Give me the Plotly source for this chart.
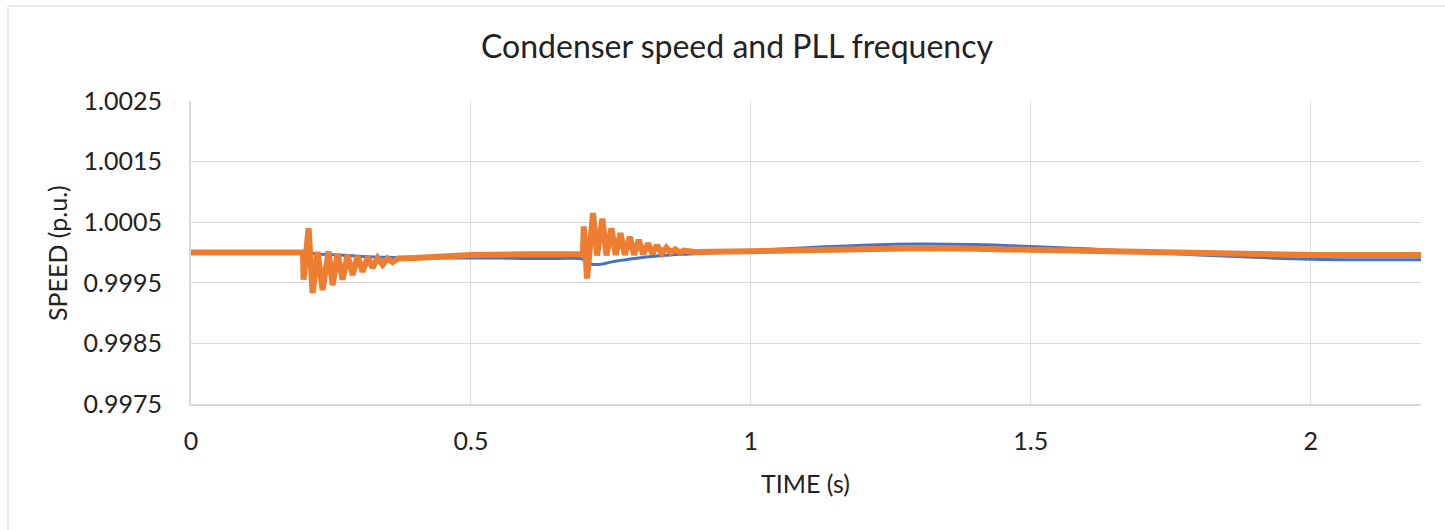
import plotly.graph_objects as go

# Condenser speed (p.u.) versus time (s)
speed_time = [0.0, 0.2, 0.22, 0.26, 0.3, 0.35, 0.4, 0.45, 0.5, 0.55, 0.6, 0.65, 0.7,
              0.705, 0.725, 0.76, 0.8, 0.84, 0.9, 1.0, 1.1, 1.2, 1.3, 1.4, 1.5,
              1.6, 1.7, 1.8, 1.9, 2.0, 2.1, 2.2]
speed_value = [1.0, 1.0, 0.99998, 0.99996, 0.99994, 0.99992, 0.99991, 0.99991, 0.99991,
               0.99991, 0.9999, 0.9999, 0.99989, 0.99984, 0.9998, 0.99986, 0.99991,
               0.99995, 0.99998, 1.00003, 1.00008, 1.00012, 1.00014, 1.00013, 1.0001,
               1.00006, 1.00001, 0.99996, 0.99992, 0.99989, 0.99988, 0.99988]

# PLL frequency (p.u.) versus time (s)
pll_time = [0.0, 0.2, 0.2011, 0.21, 0.2172, 0.2261, 0.235, 0.2458, 0.2529, 0.2618,
            0.2708, 0.2797, 0.2887, 0.2976, 0.3065, 0.3155, 0.3244, 0.3333, 0.3422,
            0.3511, 0.36, 0.37, 0.4, 0.45, 0.5, 0.6, 0.7,
            0.7015, 0.7074, 0.7181, 0.7253, 0.7349, 0.7421, 0.751, 0.7587, 0.7671,
            0.7748, 0.7837, 0.7914, 0.7998, 0.8075, 0.8164, 0.8243, 0.8325, 0.841,
            0.849, 0.857, 0.865, 0.873, 0.88, 0.9, 1.0, 1.1, 1.2, 1.3, 1.4, 1.5,
            1.6, 1.7, 1.8, 1.9, 2.0, 2.1, 2.2]
pll_value = [1.0, 1.0, 0.99955, 1.0004, 0.99933, 1.00001, 0.99938, 1.00002, 0.99946,
             0.99998, 0.99955, 0.99996, 0.99963, 0.99994, 0.99968, 0.99992, 0.99975,
             0.99991, 0.9998, 0.9999, 0.99984, 0.9999, 0.99991, 0.99994, 0.99996,
             0.99997, 0.99997,
             1.00043, 0.99957, 1.00065, 0.99995, 1.00056, 0.99995, 1.0004, 0.99996,
             1.00032, 0.99996, 1.00026, 0.99996, 1.00021, 0.99997, 1.00015, 0.99998,
             1.00012, 0.99999, 1.00008, 1.0, 1.00005, 1.0, 1.00003, 1.00001, 1.00002,
             1.00004, 1.00006, 1.00007, 1.00006, 1.00004, 1.00002, 1.0, 0.99999,
             0.99997, 0.99996, 0.99996, 0.99996]

y_ticks = [0.9975, 0.9985, 0.9995, 1.0005, 1.0015, 1.0025]
y_tick_text = ["0.9975", "0.9985", "0.9995", "1.0005", "1.0015", "1.0025"]
x_ticks = [0, 0.5, 1, 1.5, 2]
x_tick_text = ["0", "0.5", "1", "1.5", "2"]

FONT = "Lato, 'Open Sans', sans-serif"
TEXT = "#222222"
GRID = "#d9d9d9"

fig = go.Figure()
fig.add_trace(go.Scatter(x=speed_time, y=speed_value, mode="lines",
                         line=dict(color="#4472c4", width=3, shape="spline"),
                         name="Condenser speed"))
fig.add_trace(go.Scatter(x=pll_time, y=pll_value, mode="lines",
                         line=dict(color="#ed7d31", width=6),
                         name="PLL frequency"))

fig.update_layout(
    width=1445, height=530,
    margin=dict(l=191, r=24, t=101, b=126),
    paper_bgcolor="white", plot_bgcolor="white",
    showlegend=False,
    font=dict(family=FONT, color=TEXT),
    title=dict(text="Condenser speed and PLL frequency",
               font=dict(family=FONT, size=32, color=TEXT),
               x=737 / 1445, xanchor="center", y=1 - 47 / 530,
               yanchor="middle", yref="container", xref="container"),
    xaxis=dict(range=[0, 2.197], tickvals=x_ticks, ticktext=x_tick_text,
               showgrid=True, gridcolor=GRID, gridwidth=1,
               showline=True, linecolor=GRID, linewidth=2,
               zeroline=False, ticks="outside", ticklen=14,
               tickcolor="rgba(0,0,0,0)",
               tickfont=dict(family=FONT, size=25, color=TEXT)),
    yaxis=dict(range=[0.9975, 1.0025], tickvals=y_ticks, ticktext=y_tick_text,
               showgrid=True, gridcolor=GRID, gridwidth=1,
               showline=True, linecolor=GRID, linewidth=2,
               zeroline=False, ticks="outside", ticklen=22,
               tickcolor="rgba(0,0,0,0)",
               tickfont=dict(family=FONT, size=25, color=TEXT)),
    annotations=[
        dict(text="TIME (s)", xref="paper", yref="paper",
             x=(805 - 191) / 1230, y=(404 - 483) / 303,
             xanchor="center", yanchor="middle", showarrow=False,
             font=dict(family=FONT, size=25, color=TEXT)),
        dict(text="SPEED (p.u.)", xref="paper", yref="paper",
             x=(57 - 191) / 1230, y=(404 - 253) / 303, textangle=-90,
             xanchor="center", yanchor="middle", showarrow=False,
             font=dict(family=FONT, size=25, color=TEXT)),
    ],
    shapes=[
        dict(type="rect", xref="paper", yref="paper",
             x0=(8 - 191) / 1230, x1=1.05, y0=-0.5, y1=(404 - 6) / 303,
             line=dict(color=GRID, width=1), fillcolor="rgba(0,0,0,0)",
             layer="below"),
    ],
)

fig.write_html("out.html")
